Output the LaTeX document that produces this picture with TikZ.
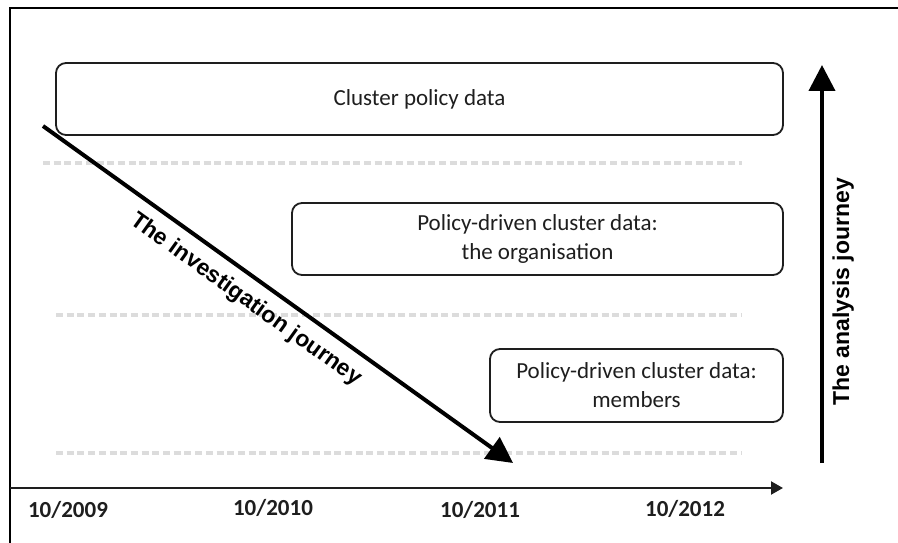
\documentclass[tikz,border=0pt]{standalone}
\usepackage{fontspec}
\setmainfont{Carlito}
\newfontfamily\journeyfont{Liberation Sans}
\usepackage{xcolor}
\definecolor{grisdash}{RGB}{220, 220, 220}
\definecolor{tinta}{RGB}{30, 30, 30}
\usetikzlibrary{arrows.meta, positioning}
\newcommand{\B}[1]{\textbf{#1}}

\begin{document}
\begin{tikzpicture}[x=1pt, y=-1pt,
        databox/.style={draw=tinta, line width=1.8pt, rounded corners=10pt, align=center,
            text=tinta, font=\fontsize{23}{29}\selectfont},
        guia/.style={draw=grisdash, line width=3.5pt, dash pattern=on 7pt off 3.7pt},
        journey/.style={line width=4pt, -{Triangle[length=26pt, width=26pt]}},
        journeytext/.style={font=\journeyfont\fontsize{23}{27}\selectfont\bfseries},
        fecha/.style={font=\fontsize{23}{27}\selectfont\bfseries, text=tinta}]
        % Marco
        \useasboundingbox (0,0) rectangle (898,543);
        \draw[line width=2.5pt] (10,543) -- (10,8) -- (898,8);

        % Lineas guia
        \draw[guia] (43,163) -- (742,163);
        \draw[guia] (56,315) -- (742,315);
        \draw[guia] (56,453) -- (742,453);

        %######## Cajas de datos #############
        \node[databox, minimum width=727pt, minimum height=72pt] (policy) at (419.5,99) {Cluster policy data};
        \node[databox, minimum width=491pt, minimum height=72pt] (organisation) at (537.5,239)
            {Policy-driven cluster data:\\the organisation};
        \node[databox, minimum width=293pt, minimum height=73pt] (members) at (636.5,385.5)
            {Policy-driven cluster data:\\members};

        %######## Flechas #############
        % Investigacion
        \coordinate (invstart) at (43,126);
        \coordinate (invend) at (513,463);
        \draw[journey] (invstart) -- node[journeytext, sloped, below=7pt, pos=0.46] (invlabel) {The investigation journey} (invend);
        % Analisis
        \coordinate (anastart) at (822,463);
        \coordinate (anaend) at (822,65);
        \draw[journey] (anastart) -- node[journeytext, sloped, below=5pt, pos=0.43] (analabel) {The analysis journey} (anaend);

        %######## Eje temporal #############
        \coordinate (axstart) at (10,488);
        \coordinate (axend) at (783,488);
        \draw[line width=2.2pt, draw=tinta, -{Triangle[length=12pt, width=13pt]}] (axstart) -- (axend);
        \node[fecha] (d2009) at (68,510) {10/2009};
        \node[fecha] (d2010) at (273,508) {10/2010};
        \node[fecha] (d2011) at (480,510) {10/2011};
        \node[fecha] (d2012) at (685,509) {10/2012};
    \end{tikzpicture}
\end{document}
